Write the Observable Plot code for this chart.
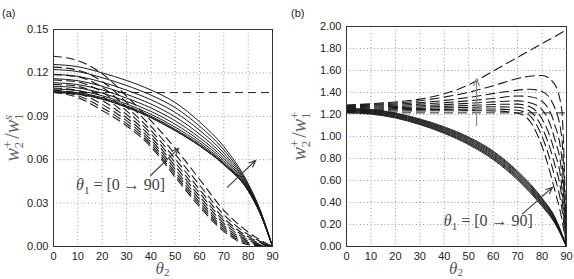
<!DOCTYPE html>
<html>
<head>
<meta charset="utf-8">
<script src="https://cdn.jsdelivr.net/npm/d3@7"></script>
<script src="https://cdn.jsdelivr.net/npm/@observablehq/plot@0.6"></script>
<style>
  body { margin: 0; background: #fff; }
  #wrap { position: relative; width: 574px; height: 279px; overflow: hidden; background: #fff; }
  .panel { position: absolute; top: 0; }
  .tag { position: absolute; font: 11px "Liberation Sans", Arial, sans-serif; color: #222; }
</style>
</head>
<body>
<div id="wrap">
  <div class="panel" id="pa" style="left:0"></div>
  <div class="panel" id="pb" style="left:287px"></div>
  <div class="tag" style="left:2px;top:7px">(a)</div>
  <div class="tag" style="left:291px;top:7px">(b)</div>
</div>
<script>
// ---- shared axes ----
const thetaTicks = [0, 10, 20, 30, 40, 50, 60, 70, 80, 90];
const yTicksA = [0, 0.03, 0.06, 0.09, 0.12, 0.15];
const yTicksB = [0, 0.2, 0.4, 0.6, 0.8, 1.0, 1.2, 1.4, 1.6, 1.8, 2.0];
const theta1Solid = [0, 10, 20, 30, 40, 50, 60, 70, 80, 90];
const theta1Dashed = [10, 20, 30, 40, 50, 60, 70, 80, 90];

// ---- panel (a): w2+/w1s ----
const gridSolidA = [0, 10, 20, 30, 40, 50, 60, 70, 80, 85, 90];
const solidA = [
  [0.1064, 0.1052, 0.1018, 0.0962, 0.0890, 0.0800, 0.0695, 0.0565, 0.0385, 0.0225, 0],
  [0.1068, 0.1056, 0.1022, 0.0966, 0.0894, 0.0804, 0.0698, 0.0568, 0.0386, 0.0225, 0],
  [0.1076, 0.1063, 0.1029, 0.0973, 0.0901, 0.0811, 0.0705, 0.0573, 0.0388, 0.0227, 0],
  [0.1089, 0.1077, 0.1042, 0.0985, 0.0914, 0.0825, 0.0717, 0.0581, 0.0392, 0.0228, 0],
  [0.1108, 0.1096, 0.1060, 0.1003, 0.0934, 0.0845, 0.0733, 0.0594, 0.0397, 0.0231, 0],
  [0.1132, 0.1119, 0.1082, 0.1026, 0.0958, 0.0869, 0.0753, 0.0609, 0.0403, 0.0234, 0],
  [0.1160, 0.1146, 0.1107, 0.1052, 0.0985, 0.0896, 0.0777, 0.0626, 0.0410, 0.0237, 0],
  [0.1190, 0.1176, 0.1136, 0.1081, 0.1015, 0.0927, 0.0804, 0.0646, 0.0418, 0.0241, 0],
  [0.1223, 0.1209, 0.1167, 0.1113, 0.1047, 0.0960, 0.0832, 0.0668, 0.0426, 0.0246, 0],
  [0.1258, 0.1243, 0.1200, 0.1148, 0.1082, 0.0995, 0.0862, 0.0690, 0.0435, 0.0250, 0]
];
const gridDashedA = [0, 10, 20, 30, 40, 50, 60, 70, 80, 90];
const dashedA = [
  [0.1066, 0.1030, 0.0940, 0.0835, 0.0690, 0.0480, 0.0275, 0.0105, 0.0012, 0],
  [0.1071, 0.1043, 0.0960, 0.0851, 0.0704, 0.0496, 0.0290, 0.0117, 0.0019, 0],
  [0.1081, 0.1058, 0.0983, 0.0870, 0.0721, 0.0514, 0.0307, 0.0130, 0.0027, 0],
  [0.1096, 0.1078, 0.1009, 0.0890, 0.0739, 0.0534, 0.0326, 0.0144, 0.0036, 0],
  [0.1121, 0.1107, 0.1037, 0.0913, 0.0758, 0.0556, 0.0347, 0.0160, 0.0045, 0],
  [0.1151, 0.1137, 0.1068, 0.0938, 0.0780, 0.0580, 0.0370, 0.0178, 0.0056, 0],
  [0.1188, 0.1173, 0.1101, 0.0964, 0.0803, 0.0606, 0.0395, 0.0196, 0.0067, 0],
  [0.1240, 0.1219, 0.1141, 0.0997, 0.0832, 0.0638, 0.0425, 0.0220, 0.0082, 0],
  [0.1315, 0.1285, 0.1195, 0.1040, 0.0870, 0.0680, 0.0465, 0.0250, 0.0100, 0]
];
const flatA = 0.1064;   // theta1 = 0, dashed
const arrowsA = [
  {x1: 39.9, y1: 0.0491, x2: 51.4, y2: 0.0678, c: "#444"},
  {x1: 71.5, y1: 0.0410, x2: 83.1, y2: 0.0595, c: "#444"}
];
const noteA = {x: 9.5, y: 0.0385};

// ---- panel (b): w2+/w1+ ----
const gridSolidB = [0, 10, 20, 30, 40, 50, 60, 70, 80, 85, 90];
const solidB = [
  [1.215, 1.203, 1.168, 1.108, 1.028, 0.925, 0.790, 0.605, 0.365, 0.220, 0],
  [1.219, 1.208, 1.173, 1.114, 1.035, 0.933, 0.799, 0.614, 0.373, 0.226, 0],
  [1.224, 1.212, 1.178, 1.119, 1.041, 0.940, 0.807, 0.623, 0.382, 0.233, 0],
  [1.228, 1.217, 1.183, 1.125, 1.048, 0.948, 0.816, 0.631, 0.390, 0.239, 0],
  [1.233, 1.222, 1.188, 1.131, 1.054, 0.956, 0.824, 0.640, 0.398, 0.246, 0],
  [1.237, 1.227, 1.194, 1.137, 1.062, 0.964, 0.834, 0.650, 0.407, 0.252, 0],
  [1.242, 1.232, 1.199, 1.143, 1.068, 0.972, 0.842, 0.659, 0.415, 0.259, 0],
  [1.246, 1.237, 1.204, 1.149, 1.075, 0.980, 0.851, 0.667, 0.424, 0.265, 0],
  [1.251, 1.241, 1.209, 1.154, 1.081, 0.987, 0.859, 0.676, 0.432, 0.272, 0],
  [1.255, 1.246, 1.214, 1.160, 1.088, 0.995, 0.868, 0.685, 0.440, 0.278, 0]
];
const gridDashedB = [0, 10, 20, 30, 40, 50, 60, 70, 75, 80, 85, 88, 90];
const dashedB = [
  [1.230, 1.231, 1.232, 1.233, 1.234, 1.235, 1.233, 1.212, 1.140, 0.910, 0.530, 0.260, 0],
  [1.240, 1.241, 1.243, 1.245, 1.247, 1.249, 1.250, 1.238, 1.190, 1.000, 0.650, 0.360, 0],
  [1.248, 1.250, 1.253, 1.256, 1.260, 1.265, 1.270, 1.266, 1.230, 1.080, 0.760, 0.460, 0],
  [1.256, 1.259, 1.263, 1.268, 1.274, 1.282, 1.291, 1.294, 1.270, 1.160, 0.870, 0.560, 0],
  [1.263, 1.267, 1.273, 1.280, 1.290, 1.302, 1.315, 1.324, 1.308, 1.245, 0.990, 0.680, 0],
  [1.270, 1.276, 1.284, 1.294, 1.308, 1.325, 1.346, 1.368, 1.362, 1.320, 1.120, 0.820, 0],
  [1.276, 1.284, 1.294, 1.308, 1.328, 1.355, 1.390, 1.422, 1.430, 1.410, 1.270, 1.000, 0],
  [1.281, 1.291, 1.304, 1.325, 1.358, 1.402, 1.462, 1.527, 1.548, 1.555, 1.480, 1.250, 0],
  [1.286, 1.298, 1.314, 1.340, 1.388, 1.470, 1.595, 1.720, 1.782, 1.845, 1.905, 1.945, 1.970]
];
const flatB = 1.215;    // theta1 = 0, dashed
const arrowsB = [
  {x1: 53.2, y1: 1.10, x2: 53.2, y2: 1.525, c: "#888"},
  {x1: 72.0, y1: 0.297, x2: 84.3, y2: 0.539, c: "#444"}
];
const noteB = {x: 40.0, y: 0.18};

// ---- helpers ----
function tidy(grid, rows, ids) {
  return rows.flatMap((r, i) => r.map((v, j) => ({t1: ids[i], t2: grid[j], v})));
}

const serif = "'Liberation Serif', 'DejaVu Serif', serif";

// y label like w_2^+ / w_1^s, rotated, with stacked sub/superscripts
function yLabel(svg, x, y, supLast) {
  const t = d3.select(svg).append("text")
    .attr("transform", `translate(${x},${y}) rotate(-90)`)
    .attr("text-anchor", "middle")
    .attr("font-family", serif)
    .attr("font-size", 20)
    .attr("fill", "#666");
  t.append("tspan").attr("font-style", "italic").text("w");
  t.append("tspan").attr("font-size", 13).attr("dy", 4).text("2");
  t.append("tspan").attr("font-size", 13).attr("dx", -6.5).attr("dy", -11).text("+");
  t.append("tspan").attr("dx", 2).attr("dy", 7).text("/");
  t.append("tspan").attr("font-style", "italic").text("w");
  t.append("tspan").attr("font-size", 13).attr("dy", 4).text("1");
  const s = t.append("tspan").attr("font-size", 13).attr("dx", -6.5).attr("dy", -11).text(supLast);
  if (supLast === "s") s.attr("font-style", "italic");
}

function xLabel(svg, x, y) {
  const t = d3.select(svg).append("text")
    .attr("x", x).attr("y", y)
    .attr("text-anchor", "middle")
    .attr("font-family", serif)
    .attr("font-size", 17)
    .attr("fill", "#555");
  t.append("tspan").attr("font-style", "italic").text("θ");
  t.append("tspan").attr("font-size", 11).attr("dy", 2).text("2");
}

function note(svg, x, y) {
  const t = d3.select(svg).append("text")
    .attr("x", x).attr("y", y)
    .attr("text-anchor", "start")
    .attr("font-family", serif)
    .attr("font-size", 16)
    .attr("fill", "#444");
  t.append("tspan").attr("font-style", "italic").text("θ");
  t.append("tspan").attr("font-size", 11).attr("dy", 4).text("1");
  t.append("tspan").attr("dy", -4).attr("dx", 4).text("= [0 → 90]");
}

function panel(opt) {
  const solid = tidy(opt.gridSolid, opt.solid, theta1Solid);
  const dashed = tidy(opt.gridDashed, opt.dashed, theta1Dashed);
  const plot = Plot.plot({
    width: 287,
    height: 279,
    marginLeft: opt.ml,
    marginRight: opt.mr,
    marginTop: opt.mt,
    marginBottom: 33,
    x: {domain: [0, 90]},
    y: {domain: opt.yDomain},
    style: {fontFamily: "'Liberation Sans', Arial, sans-serif", fontSize: "11px", color: "#222", background: "#fff"},
    marks: [
      Plot.gridX(thetaTicks, {stroke: "#9a9a9a", strokeOpacity: 1, strokeDasharray: "1,2.5"}),
      Plot.gridY(opt.yTicks, {stroke: "#9a9a9a", strokeOpacity: 1, strokeDasharray: "1,2.5"}),
      Plot.axisX(thetaTicks, {tickSize: 0, tickPadding: 6, label: null, fill: "#222"}),
      Plot.axisY(opt.yTicks, {tickSize: 0, tickPadding: 5, label: null, tickFormat: d3.format(".2f"), fill: "#222"}),
      Plot.ruleY([opt.flat], {stroke: "#222", strokeWidth: 1, strokeDasharray: opt.dash}),
      Plot.line(dashed, {x: "t2", y: "v", z: "t1", curve: "monotone-x", stroke: "#1a1a1a",
        strokeWidth: 1.1, strokeDasharray: opt.dash}),
      Plot.line(solid, {x: "t2", y: "v", z: "t1", curve: "monotone-x", stroke: "#1a1a1a",
        strokeWidth: opt.sw}),
      Plot.arrow(opt.arrows, {x1: "x1", y1: "y1", x2: "x2", y2: "y2", stroke: d => d.c,
        strokeWidth: 1.2, headLength: 9, headAngle: 45}),
      Plot.frame({stroke: "#333", strokeWidth: 1})
    ]
  });
  const sx = plot.scale("x"), sy = plot.scale("y");
  note(plot, sx.apply(opt.note.x), sy.apply(opt.note.y));
  yLabel(plot, opt.ylx, (opt.mt + 246) / 2, opt.sup);
  xLabel(plot, sx.apply(45), 274);
  document.getElementById(opt.el).append(plot);
}

panel({
  el: "pa", ml: 53, mr: 15, mt: 29,
  yDomain: [0, 0.15], yTicks: yTicksA,
  gridSolid: gridSolidA, solid: solidA,
  gridDashed: gridDashedA, dashed: dashedA,
  flat: flatA, arrows: arrowsA, note: noteA,
  dash: "8,5", sw: 1, ylx: 19, sup: "s"
});

panel({
  el: "pb", ml: 59, mr: 8, mt: 26,
  yDomain: [0, 2.0], yTicks: yTicksB,
  gridSolid: gridSolidB, solid: solidB,
  gridDashed: gridDashedB, dashed: dashedB,
  flat: flatB, arrows: arrowsB, note: noteB,
  dash: "9,5", sw: 0.9, ylx: 19, sup: "+"
});
</script>
</body>
</html>
